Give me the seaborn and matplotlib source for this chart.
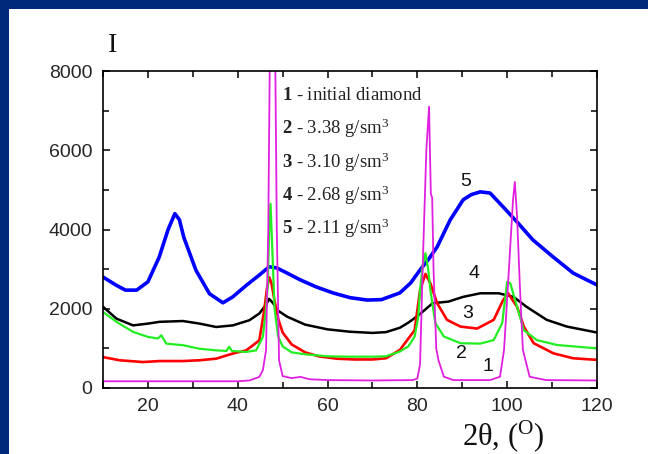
import matplotlib
matplotlib.use("Agg")
import matplotlib.pyplot as plt
from matplotlib.patches import Rectangle
from matplotlib.ticker import MultipleLocator
import seaborn as sns
import pandas as pd

# ---------------- data ----------------
x5 = [10, 13, 15, 17.5, 20, 22.5, 24.5, 26, 27, 28, 30.7, 33.7, 36.7, 38.9, 41.9, 44.8, 47, 48.7, 51,
      53.9, 57.5, 61.2, 65, 68.8, 72, 76.1, 78.5, 80.6, 82.5, 84.4, 87.3, 90.2, 92, 94, 96.2, 99.1,
      102.2, 105.7, 110.2, 114.7, 120]
y5 = [2800, 2590, 2470, 2470, 2680, 3300, 4000, 4400, 4250, 3800, 2970, 2380, 2150, 2300, 2590, 2850,
      3060, 3030, 2900, 2730, 2550, 2400, 2280, 2220, 2230, 2400, 2650, 2980, 3250, 3560, 4240, 4750,
      4880, 4950, 4920, 4570, 4190, 3740, 3310, 2900, 2600]

x4 = [10, 13, 16.7, 20, 22.6, 27.8, 31.5, 35.2, 38.9, 42.6, 44.8, 46.3, 47, 47.8, 49, 51, 55, 60, 65,
      70, 73, 76.1, 78, 80.3, 83.4, 86.9, 90.2, 94, 98.1, 101.4, 104.3, 108.8, 113.3, 120]
y4 = [2050, 1750, 1580, 1625, 1670, 1690, 1625, 1540, 1580, 1710, 1880, 2100, 2250, 2150, 1950, 1800,
      1600, 1480, 1420, 1390, 1410, 1520, 1650, 1840, 2140, 2180, 2300, 2390, 2390, 2300, 2050, 1720,
      1550, 1400]

x3 = [10, 13.7, 18.9, 22.6, 27.8, 31.5, 35.2, 38.9, 41.9, 44.8, 45.9, 46.5, 47.0, 47.5, 48.2, 49, 50,
      52, 55, 58, 62, 66, 70, 73, 76.1, 79.4, 80.6, 81.8, 82.9, 84.4, 86.6, 89.6, 93.3, 97, 99.1, 100.2,
      102.2, 103.7, 105.9, 110.3, 114.7, 120]
y3 = [780, 700, 655, 680, 680, 700, 740, 870, 950, 1200, 1960, 2500, 2800, 2650, 2200, 1750, 1400, 1100,
      900, 800, 740, 720, 720, 750, 960, 1460, 2470, 2880, 2640, 2140, 1720, 1550, 1500, 1720, 2220,
      2390, 2050, 1550, 1130, 875, 750, 710]

x2 = [10, 13, 16.7, 20, 22.2, 23, 24.1, 27.8, 31.5, 35.2, 37.5, 38.1, 38.7, 41.9, 44.1, 45.6, 46.3,
      46.7, 47.0, 47.3, 47.7, 48.2, 49, 50, 52, 55, 60, 65, 70, 73, 76.1, 78, 79.4, 80.2, 80.6, 81.2,
      81.8, 82.4, 82.9, 84, 85.9, 89.6, 94, 97, 98.9, 99.6, 100, 100.7, 102.2, 103.7, 106.6, 111.1, 120]
y2 = [1920, 1670, 1415, 1290, 1250, 1330, 1120, 1080, 990, 950, 935, 1040, 935, 910, 950, 1290, 2000,
      2640, 4000, 4650, 3500, 2000, 1300, 1050, 900, 850, 800, 790, 790, 800, 920, 1050, 1300, 1800,
      2470, 3100, 3400, 3000, 2470, 1640, 1300, 1130, 1120, 1210, 1640, 2300, 2680, 2640, 2050, 1460,
      1210, 1085, 1000]

x1 = [10, 20, 30, 40, 42.6, 44.8, 45.6, 46.3, 46.8, 47.2, 47.7, 48.3, 48.7, 49.2, 50, 52, 54, 56, 60,
      70, 79, 80, 80.6, 81.3, 82.0, 82.6, 83.0, 83.3, 83.6, 84.2, 84.7, 85.9, 88, 96.2, 98.4, 99.3,
      100.2, 101.3, 101.7, 102.2, 102.8, 103.5, 105, 108.6, 120]
y1 = [170, 170, 170, 170, 190, 280, 450, 950, 4000, 9000, 9500, 9000, 4000, 700, 300, 250, 280, 220,
      200, 190, 200, 240, 600, 3480, 6000, 7100, 4900, 4800, 3000, 1000, 700, 285, 200, 200, 285, 960,
      2640, 4750, 5200, 4330, 2640, 960, 285, 200, 190]

legend_labels = ["1", "2", "3", "4", "5"]
legend_texts = [" - initial diamond", " - 3.38 g/sm$^3$", " - 3.10 g/sm$^3$",
                " - 2.68 g/sm$^3$", " - 2.11 g/sm$^3$"]
curve_label_x = [95.7, 89.9, 91.3, 92.6, 90.8]
curve_label_y = [530, 880, 1890, 2880, 5200]

x_ticks = [20, 40, 60, 80, 100, 120]
y_ticks = [0, 2000, 4000, 6000, 8000]

# ---------------- style ----------------
sns.set_style("ticks")
plt.rcParams["font.family"] = ["Liberation Sans", "DejaVu Sans"]
plt.rcParams["mathtext.fontset"] = "custom"
plt.rcParams["mathtext.rm"] = "Liberation Serif"
plt.rcParams["mathtext.bf"] = "Liberation Serif:bold"
plt.rcParams["mathtext.it"] = "Liberation Serif:italic"

W, H = 648, 454
fig = plt.figure(figsize=(W / 100, H / 100), dpi=100, facecolor="#00297A")
fig.patches.append(Rectangle((9 / W, 0), 1 - 9 / W, (H - 9) / H, transform=fig.transFigure,
                             facecolor="white", edgecolor="none", zorder=-5))

ax = fig.add_axes([103 / W, 1 - 388 / H, (597 - 103) / W, (388 - 71) / H])
ax.set_zorder(2)
ax.set_facecolor("white")

series = [
    (x5, y5, "#0000FF", 2.6),
    (x4, y4, "#000000", 1.8),
    (x3, y3, "#FF0000", 1.9),
    (x2, y2, "#22EE22", 1.6),
    (x1, y1, "#E020E0", 1.3),
]
for xs, ys, col, lw in series:
    df = pd.DataFrame({"x": xs, "y": ys})
    sns.lineplot(data=df, x="x", y="y", sort=False, estimator=None, color=col, lw=lw, ax=ax)

ax.set_xlim(10, 120)
ax.set_ylim(0, 8000)
ax.set_xlabel("")
ax.set_ylabel("")
ax.set_xticks(x_ticks)
ax.set_yticks(y_ticks)
ax.xaxis.set_minor_locator(MultipleLocator(10))
ax.yaxis.set_minor_locator(MultipleLocator(1000))
ax.tick_params(which="both", direction="in", top=True, right=True, width=1.1, color="black")
ax.tick_params(which="major", length=5, labelsize=14, pad=7.5)
ax.tick_params(which="minor", length=4.5)
for sp in ax.spines.values():
    sp.set_visible(True)
    sp.set_linewidth(1.2)
    sp.set_color("black")

# curve labels
for lab, cx, cy in zip(legend_labels, curve_label_x, curve_label_y):
    ax.text(cx, cy, lab, fontsize=14, ha="center", va="center", color="#111111")

# legend text block
leg_y = [7370, 6560, 5700, 4870, 4040]
for num, txt, ly in zip(legend_labels, legend_texts, leg_y):
    ax.text(49.9, ly, r"$\mathbf{" + num + "}$" + txt,
            fontsize=13.5, ha="left", va="center", color="#222222",
            family=["Liberation Serif", "DejaVu Serif"])

# axis titles
fig.text(113 / W, 1 - 45 / H, "I", fontsize=20, ha="center", va="center",
         family=["Liberation Serif", "DejaVu Serif"], color="#111111")
fig.text(462 / W, 1 - 436 / H, "2θ, ($^{\\mathrm{O}}$)", fontsize=22, ha="left", va="center",
         family=["Liberation Serif", "DejaVu Serif"], color="#111111")

fig.savefig("out.png", dpi=100, facecolor=fig.get_facecolor())
